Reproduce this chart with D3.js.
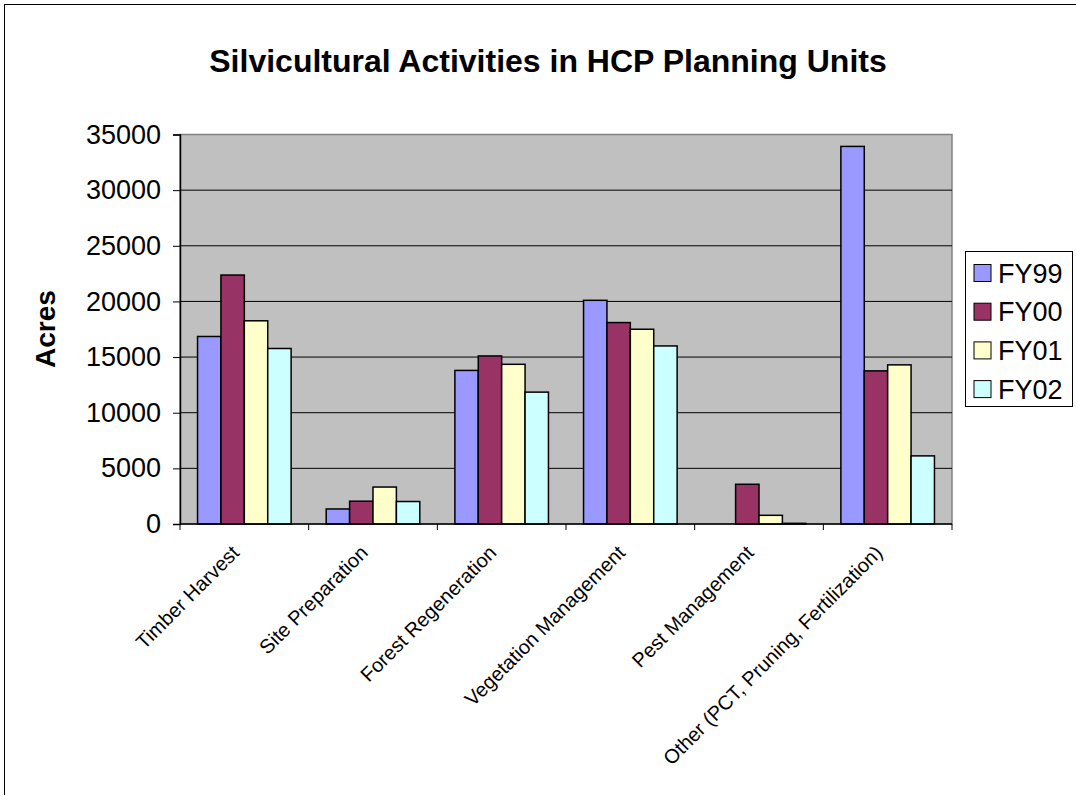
<!DOCTYPE html>
<html lang="en">
<head>
<meta charset="UTF-8">
<title>Silvicultural Activities</title>
<script src="https://cdn.jsdelivr.net/npm/d3@7"></script>
<style>
    body { margin: 0; background: #fff; }
    text { font-family: Arial, "Liberation Sans", sans-serif; }
</style>
</head>
<body>
<div id="chart"></div>
<script>
    const categories = ["Timber Harvest", "Site Preparation", "Forest Regeneration",
        "Vegetation Management", "Pest Management", "Other (PCT, Pruning, Fertilization)"];
    const seriesNames = ["FY99", "FY00", "FY01", "FY02"];
    const fy99 = [16850, 1350, 13800, 20100, 0, 33930];
    const fy00 = [22370, 2050, 15100, 18100, 3570, 13760];
    const fy01 = [18260, 3320, 14350, 17500, 780, 14300];
    const fy02 = [15770, 2020, 11850, 16000, 60, 6120];
    const yTicks = [0, 5000, 10000, 15000, 20000, 25000, 30000, 35000];
    const colors = ["#9999FF", "#993366", "#FFFFCC", "#CCFFFF"];

    const series = [fy99, fy00, fy01, fy02];
    const width = 1076, height = 795;
    const plot = {left: 180, right: 952, top: 134.5, bottom: 524};

    const svg = d3.select("#chart").append("svg")
        .attr("width", width)
        .attr("height", height);

    // outer chart frame (runs off the page to the right and bottom)
    svg.append("rect")
        .attr("x", 4.5).attr("y", 4.5)
        .attr("width", 1200).attr("height", 1000)
        .attr("fill", "none")
        .attr("stroke", "#000")
        .attr("stroke-width", 1);

    const x0 = d3.scaleBand()
        .domain(categories)
        .range([plot.left, plot.right])
        .paddingInner(0).paddingOuter(0);

    // Excel gap width 150%: 4 bars + 1.5 bar gap per category
    const x1 = d3.scaleBand()
        .domain(seriesNames)
        .range([0, x0.bandwidth()])
        .paddingInner(0)
        .paddingOuter(0.75);

    const y = d3.scaleLinear()
        .domain([0, 35000])
        .range([plot.bottom, plot.top]);

    svg.append("rect")
        .attr("x", plot.left).attr("y", plot.top)
        .attr("width", plot.right - plot.left)
        .attr("height", plot.bottom - plot.top)
        .attr("fill", "#C0C0C0")
        .attr("stroke", "#808080")
        .attr("stroke-width", 1.5);

    // gridlines
    svg.append("g")
        .selectAll("line")
        .data(yTicks.filter(d => d > 0 && d < 35000))
        .join("line")
        .attr("x1", plot.left).attr("x2", plot.right)
        .attr("y1", d => y(d)).attr("y2", d => y(d))
        .attr("stroke", "#000")
        .attr("stroke-width", 1);

    // bars
    const groups = svg.append("g")
        .selectAll("g")
        .data(categories)
        .join("g")
        .attr("transform", d => "translate(" + x0(d) + ",0)");

    groups.selectAll("rect")
        .data((c, i) => seriesNames.map((s, j) => ({s: s, j: j, v: series[j][i]})))
        .join("rect")
        .attr("x", d => x1(d.s))
        .attr("y", d => y(d.v))
        .attr("width", x1.bandwidth())
        .attr("height", d => y(0) - y(d.v))
        .attr("fill", d => colors[d.j])
        .attr("stroke", "#000")
        .attr("stroke-width", 1.5);

    // y axis
    const yAxis = svg.append("g")
        .attr("transform", "translate(" + plot.left + ",0)")
        .call(d3.axisLeft(y).tickValues(yTicks).tickSize(7).tickPadding(12).tickFormat(d3.format("d")));
    yAxis.select(".domain").attr("stroke", "#000").attr("stroke-width", 1.5);
    yAxis.selectAll("text").attr("font-size", 27).attr("fill", "#000")
        .attr("font-family", "Arial, 'Liberation Sans', sans-serif");

    // x axis
    svg.append("line")
        .attr("x1", plot.left).attr("x2", plot.right)
        .attr("y1", plot.bottom).attr("y2", plot.bottom)
        .attr("stroke", "#000").attr("stroke-width", 1.5);

    svg.append("g")
        .selectAll("line")
        .data(categories.concat(["end"]))
        .join("line")
        .attr("x1", (d, i) => i < categories.length ? x0(d) : plot.right)
        .attr("x2", (d, i) => i < categories.length ? x0(d) : plot.right)
        .attr("y1", plot.bottom).attr("y2", plot.bottom + 6)
        .attr("stroke", "#000").attr("stroke-width", 1);

    svg.append("g")
        .selectAll("text")
        .data(categories)
        .join("text")
        .attr("transform", d => "translate(" + (x0(d) + x0.bandwidth() / 2 - 4) + "," + (plot.bottom + 30) + ") rotate(-45)")
        .attr("text-anchor", "end")
        .attr("font-size", 20)
        .attr("fill", "#000")
        .text(d => d);

    // titles
    svg.append("text")
        .attr("x", 548).attr("y", 72)
        .attr("text-anchor", "middle")
        .attr("font-size", 32)
        .attr("font-weight", "bold")
        .text("Silvicultural Activities in HCP Planning Units");

    svg.append("text")
        .attr("transform", "translate(55,329) rotate(-90)")
        .attr("text-anchor", "middle")
        .attr("font-size", 28)
        .attr("font-weight", "bold")
        .text("Acres");

    // legend
    const legend = svg.append("g");
    legend.append("rect")
        .attr("x", 965.5).attr("y", 251.5)
        .attr("width", 107).attr("height", 155)
        .attr("fill", "#fff")
        .attr("stroke", "#000").attr("stroke-width", 1);

    const items = legend.selectAll("g")
        .data(seriesNames)
        .join("g")
        .attr("transform", (d, i) => "translate(974," + (273 + i * 38.7) + ")");
    items.append("rect")
        .attr("x", 0).attr("y", -8.5)
        .attr("width", 17).attr("height", 17)
        .attr("fill", (d, i) => colors[i])
        .attr("stroke", "#000").attr("stroke-width", 1);
    items.append("text")
        .attr("x", 24).attr("y", 0)
        .attr("dy", "0.36em")
        .attr("font-size", 27)
        .text(d => d);
</script>
</body>
</html>
